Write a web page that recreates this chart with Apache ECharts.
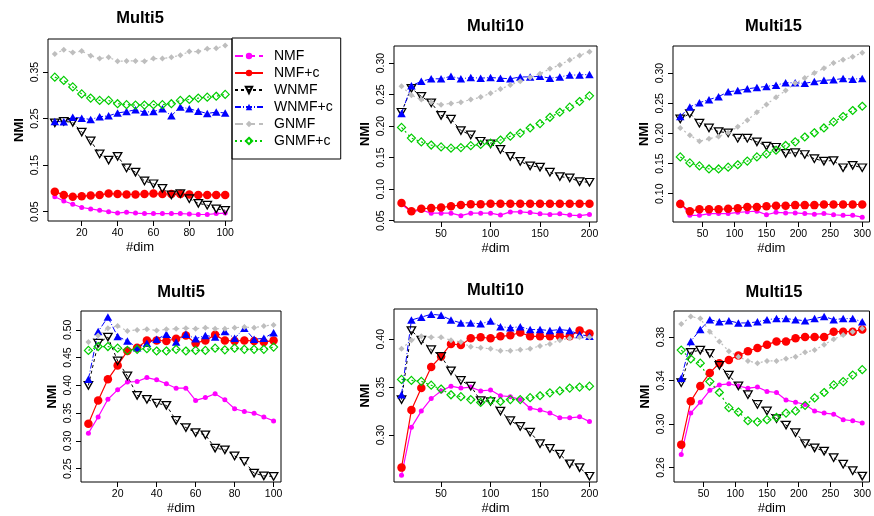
<!DOCTYPE html>
<html>
<head>
<meta charset="utf-8">
<script src="https://cdn.jsdelivr.net/npm/echarts@6/dist/echarts.min.js"></script>
<style>
  html, body { margin: 0; padding: 0; background: #fff; }
  #chart { width: 874px; height: 516px; }
</style>
</head>
<body>
<div id="chart"></div>
<script>
// 维度 (x)
var dims5 = [5, 10, 15, 20, 25, 30, 35, 40, 45, 50, 55, 60, 65, 70, 75, 80, 85, 90, 95, 100];
var dims10 = [10, 20, 30, 40, 50, 60, 70, 80, 90, 100, 110, 120, 130, 140, 150, 160, 170, 180, 190, 200];
var dims15 = [15, 30, 45, 60, 75, 90, 105, 120, 135, 150, 165, 180, 195, 210, 225, 240, 255, 270, 285, 300];

var methods = ['NMF', 'NMF+c', 'WNMF', 'WNMF+c', 'GNMF', 'GNMF+c'];

// 上排 Multi5
var a5_nmf = [0.082, 0.073, 0.066, 0.059, 0.056, 0.053, 0.050, 0.047, 0.049, 0.047, 0.046, 0.046, 0.046, 0.046, 0.046, 0.045, 0.044, 0.044, 0.046, 0.047];
var a5_nmfc = [0.093, 0.086, 0.082, 0.083, 0.085, 0.086, 0.089, 0.088, 0.087, 0.087, 0.088, 0.089, 0.088, 0.088, 0.088, 0.087, 0.086, 0.086, 0.086, 0.086];
var a5_wnmf = [0.241, 0.244, 0.242, 0.221, 0.202, 0.174, 0.161, 0.169, 0.144, 0.135, 0.116, 0.110, 0.100, 0.086, 0.089, 0.078, 0.068, 0.064, 0.056, 0.053];
var a5_wnmfc = [0.244, 0.243, 0.253, 0.251, 0.248, 0.254, 0.256, 0.262, 0.265, 0.269, 0.264, 0.265, 0.271, 0.256, 0.275, 0.271, 0.266, 0.261, 0.264, 0.262];
var a5_gnmf = [0.389, 0.398, 0.392, 0.395, 0.385, 0.379, 0.382, 0.373, 0.374, 0.374, 0.373, 0.379, 0.379, 0.382, 0.386, 0.394, 0.394, 0.400, 0.401, 0.407];
var a5_gnmfc = [0.339, 0.332, 0.318, 0.303, 0.294, 0.289, 0.289, 0.282, 0.280, 0.279, 0.279, 0.280, 0.280, 0.282, 0.289, 0.291, 0.294, 0.296, 0.298, 0.302];

// 上排 Multi10
var a10_nmf = [0.076, 0.064, 0.067, 0.062, 0.062, 0.062, 0.058, 0.062, 0.062, 0.062, 0.059, 0.064, 0.064, 0.063, 0.061, 0.060, 0.061, 0.059, 0.058, 0.060];
var a10_nmfc = [0.078, 0.065, 0.069, 0.070, 0.071, 0.073, 0.075, 0.076, 0.076, 0.077, 0.077, 0.077, 0.077, 0.077, 0.077, 0.077, 0.077, 0.077, 0.077, 0.077];
var a10_wnmf = [0.222, 0.260, 0.247, 0.237, 0.217, 0.211, 0.193, 0.186, 0.176, 0.172, 0.163, 0.152, 0.144, 0.137, 0.135, 0.127, 0.120, 0.118, 0.112, 0.111];
var a10_wnmfc = [0.220, 0.264, 0.271, 0.275, 0.275, 0.279, 0.275, 0.277, 0.276, 0.277, 0.276, 0.275, 0.278, 0.278, 0.279, 0.276, 0.278, 0.281, 0.281, 0.282];
var a10_gnmf = [0.263, 0.249, 0.242, 0.238, 0.234, 0.236, 0.238, 0.242, 0.246, 0.252, 0.259, 0.265, 0.271, 0.277, 0.283, 0.291, 0.297, 0.305, 0.312, 0.318];
var a10_gnmfc = [0.198, 0.181, 0.175, 0.170, 0.167, 0.165, 0.166, 0.169, 0.171, 0.173, 0.178, 0.184, 0.189, 0.197, 0.204, 0.214, 0.222, 0.230, 0.239, 0.248];

// 上排 Multi15
var a15_nmf = [0.086, 0.064, 0.064, 0.067, 0.067, 0.067, 0.069, 0.070, 0.071, 0.065, 0.069, 0.068, 0.068, 0.067, 0.066, 0.067, 0.065, 0.064, 0.064, 0.061];
var a15_nmfc = [0.083, 0.071, 0.074, 0.074, 0.074, 0.075, 0.076, 0.078, 0.078, 0.079, 0.080, 0.080, 0.081, 0.081, 0.081, 0.082, 0.082, 0.082, 0.082, 0.082];
var a15_wnmf = [0.224, 0.233, 0.217, 0.209, 0.203, 0.201, 0.192, 0.192, 0.186, 0.179, 0.177, 0.167, 0.168, 0.165, 0.158, 0.154, 0.155, 0.143, 0.147, 0.143];
var a15_wnmfc = [0.228, 0.244, 0.251, 0.256, 0.261, 0.269, 0.271, 0.274, 0.276, 0.278, 0.280, 0.284, 0.284, 0.283, 0.286, 0.288, 0.289, 0.291, 0.290, 0.291];
var a15_gnmf = [0.209, 0.197, 0.187, 0.191, 0.195, 0.201, 0.211, 0.222, 0.235, 0.248, 0.260, 0.271, 0.283, 0.292, 0.300, 0.308, 0.317, 0.322, 0.327, 0.334];
var a15_gnmfc = [0.161, 0.151, 0.146, 0.141, 0.141, 0.144, 0.148, 0.154, 0.161, 0.166, 0.172, 0.180, 0.186, 0.194, 0.201, 0.209, 0.219, 0.228, 0.238, 0.245];

// 下排 Multi5
var b5_nmf = [0.314, 0.343, 0.375, 0.392, 0.406, 0.407, 0.414, 0.410, 0.403, 0.395, 0.395, 0.373, 0.378, 0.385, 0.374, 0.358, 0.353, 0.350, 0.343, 0.336];
var b5_nmfc = [0.331, 0.373, 0.411, 0.436, 0.462, 0.468, 0.481, 0.481, 0.480, 0.484, 0.490, 0.476, 0.481, 0.491, 0.481, 0.480, 0.481, 0.480, 0.478, 0.481];
var b5_wnmf = [0.400, 0.476, 0.487, 0.444, 0.417, 0.382, 0.375, 0.368, 0.364, 0.337, 0.324, 0.315, 0.311, 0.287, 0.284, 0.273, 0.263, 0.242, 0.237, 0.236];
var b5_wnmfc = [0.411, 0.497, 0.523, 0.488, 0.480, 0.468, 0.476, 0.483, 0.492, 0.478, 0.492, 0.484, 0.490, 0.487, 0.497, 0.485, 0.503, 0.483, 0.485, 0.495];
var b5_gnmf = [0.478, 0.490, 0.503, 0.507, 0.498, 0.500, 0.501, 0.499, 0.501, 0.502, 0.503, 0.502, 0.504, 0.502, 0.502, 0.504, 0.505, 0.504, 0.507, 0.509];
var b5_gnmfc = [0.463, 0.470, 0.470, 0.467, 0.463, 0.465, 0.466, 0.462, 0.462, 0.465, 0.462, 0.463, 0.463, 0.467, 0.464, 0.467, 0.465, 0.465, 0.465, 0.469];

// 下排 Multi10
var b10_nmf = [0.258, 0.308, 0.325, 0.338, 0.346, 0.351, 0.349, 0.350, 0.346, 0.347, 0.341, 0.340, 0.337, 0.328, 0.326, 0.323, 0.318, 0.318, 0.319, 0.314];
var b10_nmfc = [0.266, 0.326, 0.349, 0.371, 0.382, 0.395, 0.394, 0.401, 0.402, 0.401, 0.403, 0.404, 0.407, 0.403, 0.403, 0.403, 0.403, 0.403, 0.409, 0.406];
var b10_wnmf = [0.337, 0.409, 0.399, 0.389, 0.382, 0.367, 0.357, 0.351, 0.336, 0.335, 0.325, 0.315, 0.309, 0.303, 0.291, 0.286, 0.280, 0.270, 0.266, 0.257];
var b10_wnmfc = [0.342, 0.420, 0.423, 0.426, 0.425, 0.420, 0.417, 0.417, 0.416, 0.419, 0.413, 0.412, 0.413, 0.410, 0.410, 0.409, 0.410, 0.409, 0.405, 0.403];
var b10_gnmf = [0.390, 0.399, 0.403, 0.402, 0.402, 0.399, 0.397, 0.392, 0.391, 0.390, 0.388, 0.388, 0.389, 0.390, 0.393, 0.395, 0.399, 0.401, 0.402, 0.402];
var b10_gnmfc = [0.358, 0.357, 0.356, 0.352, 0.348, 0.342, 0.340, 0.337, 0.334, 0.336, 0.335, 0.337, 0.337, 0.339, 0.341, 0.344, 0.346, 0.349, 0.350, 0.351];

// 下排 Multi15
var b15_nmf = [0.272, 0.310, 0.320, 0.331, 0.336, 0.337, 0.335, 0.333, 0.334, 0.330, 0.329, 0.322, 0.320, 0.318, 0.312, 0.310, 0.309, 0.304, 0.303, 0.301];
var b15_nmfc = [0.281, 0.321, 0.335, 0.347, 0.356, 0.359, 0.363, 0.367, 0.370, 0.373, 0.376, 0.376, 0.379, 0.380, 0.380, 0.380, 0.385, 0.385, 0.385, 0.387];
var b15_wnmf = [0.338, 0.366, 0.368, 0.365, 0.354, 0.345, 0.335, 0.327, 0.318, 0.312, 0.305, 0.299, 0.292, 0.282, 0.278, 0.275, 0.269, 0.263, 0.257, 0.252];
var b15_wnmfc = [0.342, 0.376, 0.387, 0.396, 0.394, 0.395, 0.393, 0.393, 0.394, 0.396, 0.397, 0.397, 0.396, 0.395, 0.397, 0.399, 0.396, 0.397, 0.397, 0.394];
var b15_gnmf = [0.392, 0.399, 0.397, 0.385, 0.376, 0.367, 0.362, 0.358, 0.356, 0.358, 0.358, 0.360, 0.362, 0.366, 0.368, 0.373, 0.378, 0.382, 0.385, 0.388];
var b15_gnmfc = [0.368, 0.360, 0.356, 0.339, 0.329, 0.315, 0.311, 0.303, 0.302, 0.304, 0.306, 0.310, 0.312, 0.317, 0.324, 0.329, 0.336, 0.339, 0.345, 0.350];

// 刻度
var xTicks5 = [20, 40, 60, 80, 100];
var xTicks10 = [50, 100, 150, 200];
var xTicks15 = [50, 100, 150, 200, 250, 300];
var yTicksA5 = [0.05, 0.15, 0.25, 0.35];
var yTicksA10 = [0.05, 0.10, 0.15, 0.20, 0.25, 0.30];
var yTicksA15 = [0.10, 0.15, 0.20, 0.25, 0.30];
var yTicksB5 = [0.25, 0.30, 0.35, 0.40, 0.45, 0.50];
var yTicksB10 = [0.30, 0.35, 0.40];
var yTicksB15 = [0.26, 0.30, 0.34, 0.38];

// 每个子图: 位置 + 数据
var panels = [
    { title: 'Multi5', box: [48, 39, 184, 182], tY: 18, x: [1.2, 103.8], y: [0.030, 0.421], dims: dims5, xt: xTicks5, yt: yTicksA5,
      vals: [a5_nmf, a5_nmfc, a5_wnmf, a5_wnmfc, a5_gnmf, a5_gnmfc] },
    { title: 'Multi10', box: [394, 46, 203, 176], tY: 26, x: [2.4, 207.6], y: [0.048, 0.327], dims: dims10, xt: xTicks10, yt: yTicksA10,
      vals: [a10_nmf, a10_nmfc, a10_wnmf, a10_wnmfc, a10_gnmf, a10_gnmfc] },
    { title: 'Multi15', box: [673, 46, 201, 176], tY: 26, x: [3.6, 311.4], y: [0.053, 0.345], dims: dims15, xt: xTicks15, yt: yTicksA15,
      vals: [a15_nmf, a15_nmfc, a15_wnmf, a15_wnmfc, a15_gnmf, a15_gnmfc] },
    { title: 'Multi5', box: [81, 311, 200, 176], tY: 292, x: [1.2, 103.8], y: [0.226, 0.534], dims: dims5, xt: xTicks5, yt: yTicksB5,
      vals: [b5_nmf, b5_nmfc, b5_wnmf, b5_wnmfc, b5_gnmf, b5_gnmfc] },
    { title: 'Multi10', box: [394, 309, 203, 178], tY: 290, x: [2.4, 207.6], y: [0.251, 0.4315], dims: dims10, xt: xTicks10, yt: yTicksB10,
      vals: [b10_nmf, b10_nmfc, b10_wnmf, b10_wnmfc, b10_gnmf, b10_gnmfc] },
    { title: 'Multi15', box: [674, 311, 200, 176], tY: 292, x: [3.6, 311.4], y: [0.2466, 0.404], dims: dims15, xt: xTicks15, yt: yTicksB15,
      vals: [b15_nmf, b15_nmfc, b15_wnmf, b15_wnmfc, b15_gnmf, b15_gnmfc] }
];

// 线型和点型 (仿 R 的 pch)
var looks = [
    { color: '#FF00FF', symbol: 'circle', size: 5, rotate: 0, fill: '#FF00FF', bw: 0, line: 'solid', width: 1.2 },
    { color: '#FF0000', symbol: 'circle', size: 8.5, rotate: 0, fill: '#FF0000', bw: 0, line: 'solid', width: 1.2 },
    { color: '#000000', symbol: 'triangle', size: [8.5, 7.5], rotate: 180, fill: 'rgba(255,255,255,0)', bw: 1.3, line: [3, 3], width: 1 },
    { color: '#0000FF', symbol: 'triangle', size: [8.5, 7.5], rotate: 0, fill: '#0000FF', bw: 0, line: [6, 2, 1, 2], width: 1 },
    { color: '#BEBEBE', symbol: 'diamond', size: 6, rotate: 0, fill: '#BEBEBE', bw: 0, line: [2, 3], width: 1.2 },
    { color: '#00CD00', symbol: 'diamond', size: 8, rotate: 0, fill: 'rgba(255,255,255,0)', bw: 1.2, line: [2, 3], width: 1.2 }
];

var font = '"Liberation Sans", Arial, sans-serif';
var grids = [], xAxes = [], yAxes = [], series = [], texts = [];

panels.forEach(function (p, i) {
    grids.push({
        left: p.box[0], top: p.box[1], width: p.box[2], height: p.box[3],
        show: true, borderColor: '#000', borderWidth: 1, backgroundColor: 'transparent'
    });
    xAxes.push({
        type: 'value', gridIndex: i, min: p.x[0], max: p.x[1],
        axisLine: { show: false, onZero: false },
        splitLine: { show: false },
        axisTick: { show: true, length: 5, customValues: p.xt, lineStyle: { color: '#000' } },
        axisLabel: { customValues: p.xt, fontSize: 10.5, color: '#000', margin: 7, fontFamily: font },
        name: '#dim', nameLocation: 'middle', nameGap: 20,
        nameTextStyle: { fontSize: 13, color: '#000', fontFamily: font }
    });
    yAxes.push({
        type: 'value', gridIndex: i, min: p.y[0], max: p.y[1],
        axisLine: { show: false, onZero: false },
        splitLine: { show: false },
        axisTick: { show: true, length: 5, customValues: p.yt, lineStyle: { color: '#000' } },
        axisLabel: {
            customValues: p.yt, fontSize: 10.5, color: '#000', margin: 7, rotate: 90, fontFamily: font,
            formatter: function (v) { return v.toFixed(2); }
        },
        name: 'NMI', nameLocation: 'middle', nameGap: 22,
        nameTextStyle: { fontSize: 13, fontWeight: 'bold', color: '#000', fontFamily: font }
    });
    methods.forEach(function (m, k) {
        var lk = looks[k];
        series.push({
            name: m, type: 'line', xAxisIndex: i, yAxisIndex: i,
            data: p.dims.map(function (d, j) { return [d, p.vals[k][j]]; }),
            symbol: lk.symbol, symbolSize: lk.size, symbolRotate: lk.rotate,
            itemStyle: { color: lk.fill, borderColor: lk.color, borderWidth: lk.bw },
            lineStyle: { color: lk.color, width: lk.width, type: lk.line },
            emphasis: { disabled: true }
        });
    });
    texts.push({
        type: 'text', x: p.box[0] + p.box[2] / 2, y: p.tY,
        style: { text: p.title, textAlign: 'center', textVerticalAlign: 'middle',
                 font: 'bold 16.5px ' + font, fill: '#000' }
    });
});

var chart = echarts.init(document.getElementById('chart'), null, { renderer: 'canvas' });
chart.setOption({
    animation: false,
    backgroundColor: '#fff',
    grid: grids,
    xAxis: xAxes,
    yAxis: yAxes,
    series: series,
    graphic: texts,
    legend: {
        orient: 'vertical', left: 232, top: 38,
        padding: [11, 8, 11, 2],
        itemWidth: 28, itemHeight: 8, itemGap: 3,
        borderColor: '#000', borderWidth: 1,
        textStyle: { fontSize: 14, color: '#000', fontFamily: font, padding: [0, 0, 0, 6] },
        data: [
            { name: 'NMF', lineStyle: { type: 'dashed' } },
            'NMF+c', 'WNMF', 'WNMF+c',
            { name: 'GNMF', lineStyle: { type: 'dashed' } },
            'GNMF+c'
        ]
    }
});
</script>
</body>
</html>
